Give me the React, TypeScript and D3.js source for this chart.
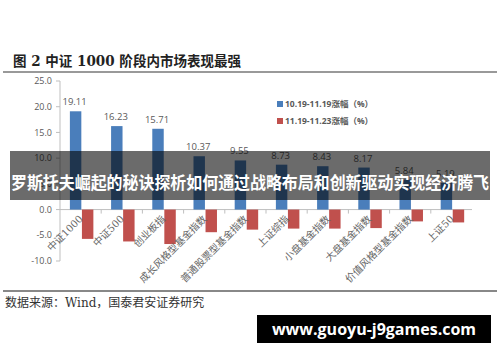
import React, { useEffect, useRef } from 'react';
import * as d3 from 'd3';

const categories = ['中证1000', '中证500', '创业板指', '成长风格型基金指数', '普通股票型基金指数',
    '上证综指', '小盘基金指数', '大盘基金指数', '价值风格型基金指数', '上证50'];
const rangeA = [19.11, 16.23, 15.71, 10.37, 9.55, 8.73, 8.43, 8.17, 5.84, 5.19];
const rangeB = [-5.7, -6.2, -6.7, -4.4, -3.9, -3.7, -3.7, -3.6, -2.3, -2.5];
const seriesNames = ['10.19-11.19涨幅（%）', '11.19-11.23涨幅（%）'];
const yTicks = [25, 20, 15, 10, 5, 0, -5, -10];

const colors = ['#4a7ebb', '#c0504d'];
const gray = '#595959';

const App = () => {
    const ref = useRef(null);

    useEffect(() => {
        const width = 500;
        const height = 362;
        const svg = d3.select(ref.current);
        svg.selectAll('*').remove();

        svg.append('rect').attr('width', width).attr('height', height).attr('fill', 'white');

        // title + rules
        svg.append('text')
            .attr('x', 13).attr('y', 66)
            .attr('textLength', 228).attr('lengthAdjust', 'spacingAndGlyphs')
            .style('font', 'bold 14px "DejaVu Serif", "Noto Sans CJK SC", serif')
            .attr('fill', '#222')
            .text('图 2 中证 1000 阶段内市场表现最强');
        svg.append('line').attr('x1', 3).attr('x2', 497).attr('y1', 72).attr('y2', 72)
            .attr('stroke', '#777').attr('stroke-width', 1.5);
        svg.append('line').attr('x1', 3).attr('x2', 497).attr('y1', 291).attr('y2', 291)
            .attr('stroke', '#888').attr('stroke-width', 2);

        const y = d3.scaleLinear().domain([-10, 25]).range([261, 81]);
        const x0 = d3.scaleBand().domain(categories).range([60, 472]);
        const x1 = d3.scaleBand().domain(seriesNames)
            .range([x0.bandwidth() * 0.24, x0.bandwidth() * 0.81]).paddingInner(0.05);

        // y axis
        const yAxis = svg.append('g');
        yAxis.append('line').attr('x1', 60).attr('x2', 60).attr('y1', y(25)).attr('y2', y(-10))
            .attr('stroke', '#bfbfbf');
        const tk = yAxis.selectAll('g').data(yTicks).join('g');
        tk.append('line').attr('x1', 56).attr('x2', 60).attr('y1', d => y(d)).attr('y2', d => y(d))
            .attr('stroke', '#bfbfbf');
        tk.append('text').attr('x', 52).attr('y', d => y(d)).attr('dy', '0.35em')
            .attr('text-anchor', 'end').attr('fill', gray)
            .style('font', '9px "Open Sans", sans-serif')
            .text(d => d.toFixed(1));

        // x axis at zero
        svg.append('line').attr('x1', 60).attr('x2', 472).attr('y1', y(0)).attr('y2', y(0))
            .attr('stroke', '#bfbfbf');
        svg.append('g').selectAll('line').data(categories.slice(1))
            .join('line')
            .attr('x1', d => x0(d)).attr('x2', d => x0(d))
            .attr('y1', y(0)).attr('y2', y(0) + 4)
            .attr('stroke', '#bfbfbf');

        // bars
        const groups = svg.append('g').selectAll('g').data(categories).join('g')
            .attr('transform', d => `translate(${x0(d)},0)`);
        groups.append('rect')
            .attr('x', x1(seriesNames[0])).attr('width', x1.bandwidth())
            .attr('y', (d, i) => y(rangeA[i])).attr('height', (d, i) => y(0) - y(rangeA[i]))
            .attr('fill', colors[0]);
        groups.append('rect')
            .attr('x', x1(seriesNames[1])).attr('width', x1.bandwidth())
            .attr('y', y(0)).attr('height', (d, i) => y(rangeB[i]) - y(0))
            .attr('fill', colors[1]);
        groups.append('text')
            .attr('x', x1(seriesNames[0]) + x1.bandwidth() / 2 - 1)
            .attr('y', (d, i) => y(rangeA[i]) - 6)
            .attr('text-anchor', 'middle').attr('fill', gray)
            .style('font', '9.5px "Open Sans", sans-serif')
            .text((d, i) => rangeA[i].toFixed(2));

        // category labels
        svg.append('g').selectAll('text').data(categories).join('text')
            .attr('transform', d => `translate(${x0(d) + x0.bandwidth() / 2 + 3},${y(0) + 10}) rotate(-45)`)
            .attr('text-anchor', 'end').attr('fill', '#666')
            .style('font', '10px "DejaVu Serif", "Noto Sans CJK SC", serif')
            .text(d => d);

        // legend
        const legend = svg.append('g').selectAll('g').data(seriesNames).join('g')
            .attr('transform', (d, i) => `translate(277,${104 + i * 17})`);
        legend.append('rect').attr('y', -3).attr('width', 6).attr('height', 6)
            .attr('fill', (d, i) => colors[i]);
        legend.append('text').attr('x', 8).attr('dy', '0.35em').attr('fill', gray)
            .style('font', 'bold 8.5px "Open Sans", "Noto Sans CJK SC", sans-serif')
            .text(d => d);

        // source
        svg.append('text').attr('x', 5).attr('y', 307).attr('fill', '#333')
            .style('font', '12px "DejaVu Serif", "Noto Sans CJK SC", serif')
            .text('数据来源：Wind，国泰君安证券研究');

        // overlay banner
        svg.append('rect').attr('x', 10).attr('y', 151).attr('width', 480).attr('height', 49)
            .attr('fill', 'rgba(0,0,0,0.58)');
        svg.append('text').attr('x', 11).attr('y', 189)
            .attr('textLength', 478).attr('lengthAdjust', 'spacingAndGlyphs')
            .attr('fill', 'white')
            .style('font', 'bold 17px "Noto Sans CJK SC", sans-serif')
            .text('罗斯托夫崛起的秘诀探析如何通过战略布局和创新驱动实现经济腾飞');

        // watermark
        svg.append('rect').attr('x', 257).attr('y', 315).attr('width', 234).attr('height', 28)
            .attr('fill', 'black');
        svg.append('text').attr('x', 374).attr('y', 335).attr('text-anchor', 'middle')
            .attr('fill', 'white')
            .style('font', 'bold 16px "Open Sans", sans-serif')
            .text('www.guoyu-j9games.com');
    }, []);

    return (
        <svg ref={ref} width={500} height={362}
            style={{ position: 'absolute', left: 0, top: 0, display: 'block' }} />
    );
};

export default App;
